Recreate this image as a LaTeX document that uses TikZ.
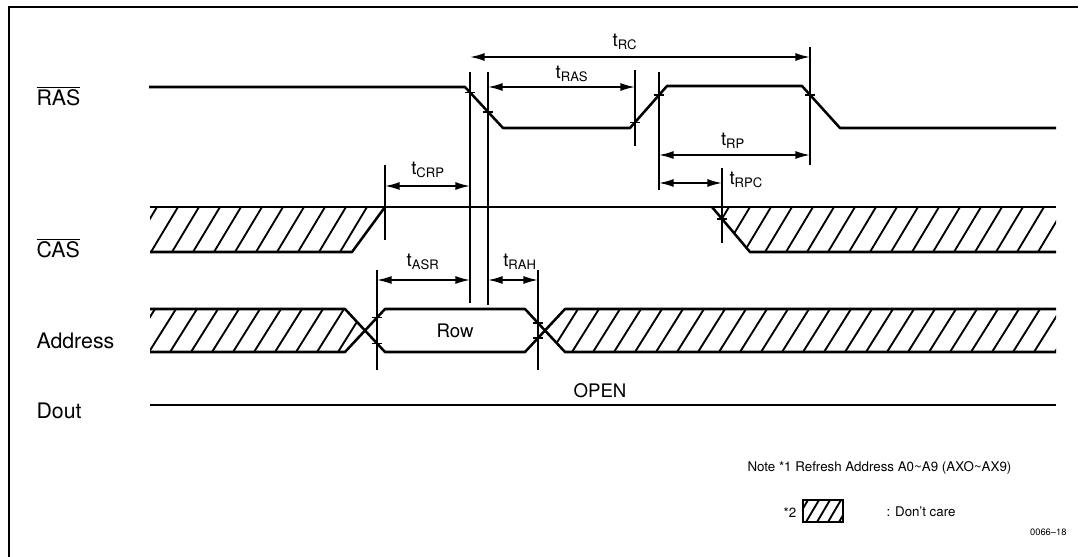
\documentclass[tikz,border=0pt]{standalone}
\usepackage{fontspec}
\setmainfont{TeX Gyre Heros}
\usetikzlibrary{arrows.meta}
\tikzset{every picture/.style={line width=0.75pt}}
\tikzset{
  sig/.style={line width=1.9pt, line join=round},
  marker/.style={line width=1.2pt},
  dim/.style={line width=1.2pt, {Latex[length=11pt,width=6pt]}-{Latex[length=11pt,width=6pt]}},
  hatch/.style={line width=1.4pt},
  lbl/.style={inner sep=0.75pt, font=\fontsize{14}{16}\selectfont},
  notelbl/.style={inner sep=0.75pt, font=\fontsize{10}{12}\selectfont},
  siglbl/.style={anchor=west, inner sep=0.75pt, font=\fontsize{16}{19}\selectfont}
}
\newcommand{\tsub}[1]{t\textsubscript{#1}}

\begin{document}
\begin{tikzpicture}[x=0.75pt,y=0.75pt,yscale=-1,xscale=1]
\path[use as bounding box] (0,0) rectangle (1083,557);

%Frame
\draw [line width=1.2pt] (9,557) -- (9,7) -- (1078,7) ;

%RAS
\draw [sig] (149,87) -- (465,87) -- (503,128) -- (630,128) -- (667,86) -- (802,86) -- (840,128) -- (1056,128) ;

%CAS
\draw [sig] (150,207) -- (1056,207) ;
\draw [sig] (150,252) -- (352,252) -- (385,207) ;
\draw [sig] (712,207) -- (750,252) -- (1056,252) ;
\begin{scope}
\clip (150,207) -- (385,207) -- (352,252) -- (150,252) -- cycle ;
\foreach \x in {130,151,...,390} \draw [hatch] (\x,252) -- ++(27,-45) ;
\end{scope}
\begin{scope}
\clip (712,207) -- (1056,207) -- (1056,252) -- (750,252) -- cycle ;
\foreach \x in {702,723,...,1060} \draw [hatch] (\x,252) -- ++(27,-45) ;
\end{scope}

%Address
\draw [sig] (150,309) -- (345,309) -- (385,352) -- (525,352) -- (565,309) -- (1056,309) ;
\draw [sig] (150,352) -- (345,352) -- (385,309) -- (525,309) -- (565,352) -- (1056,352) ;
\begin{scope}
\clip (150,309) -- (345,309) -- (365,330.5) -- (345,352) -- (150,352) -- cycle ;
\foreach \x in {128,149,...,350} \draw [hatch] (\x,352) -- ++(27,-43) ;
\end{scope}
\begin{scope}
\clip (545,330.5) -- (565,309) -- (1056,309) -- (1056,352) -- (565,352) -- cycle ;
\foreach \x in {530,551,...,1060} \draw [hatch] (\x,352) -- ++(27,-43) ;
\end{scope}

%Dout
\draw [sig] (150,405) -- (1056,405) ;

%Marker lines
\draw [marker] (385,165) -- (385,240) ;
\draw [marker] (470,72) -- (470,303) ;
\draw [marker] (488,72) -- (488,305) ;
\draw [marker] (635,70) -- (635,146) ;
\draw [marker] (659,72) -- (659,190) ;
\draw [marker] (810,47) -- (810,165) ;
\draw [marker] (722,168) -- (722,243) ;
\draw [marker] (377,270) -- (377,370) ;
\draw [marker] (538,270) -- (538,370) ;

%Ticks
\foreach \tx/\ty in {470/92.4, 488/111.8, 635/122.3, 659/95.1, 810/94.8, 385/207, 722/218.8, 377/317.6, 377/343.4, 538/323, 538/338}
  \draw [marker] (\tx-5,\ty) -- (\tx+5,\ty) ;

%Dimension arrows
\draw [dim] (470,57) -- (810,57) ;
\draw [dim] (488,87) -- (635,87) ;
\draw [dim] (659,155) -- (810,155) ;
\draw [dim] (659,183) -- (722,183) ;
\draw [dim] (385,186) -- (470,186) ;
\draw [dim] (377,280) -- (470,280) ;
\draw [dim] (488,280) -- (538,280) ;

% Text Node
\node [siglbl] (ras) at (35,96) {$\overline{\hbox{RAS}}$};
\node [siglbl] (cas) at (35,248) {$\overline{\hbox{CAS}}$};
\node [siglbl] (addr) at (35,341) {Address};
\node [siglbl] (dout) at (35,411) {Dout};
% Text Node
\node [lbl] (trc) at (625,42) {\tsub{RC}};
\node [lbl] (tras) at (572,74) {\tsub{RAS}};
\node [lbl] (trp) at (733,141) {\tsub{RP}};
\node [lbl, anchor=west] (trpc) at (728,180) {\tsub{RPC}};
\node [lbl] (tcrp) at (428,170) {\tsub{CRP}};
\node [lbl] (tasr) at (423,262) {\tsub{ASR}};
\node [lbl] (trah) at (520,262) {\tsub{RAH}};
\node [lbl] (row) at (455,331) {Row};
\node [lbl] (open) at (600,391) {OPEN};
% Text Node
\node [notelbl, anchor=west] (note) at (746,468) {Note *1 Refresh Address A0\textasciitilde A9 (AXO\textasciitilde AX9)};
\node [notelbl] (star) at (790,513) {*2};
\draw [line width=1.3pt] (803,500) rectangle (843,522) ;
\begin{scope}
\clip (803,500) rectangle (843,522) ;
\foreach \x in {795,806,...,845} \draw [hatch] (\x,522) -- ++(13,-22) ;
\end{scope}
\node [notelbl, anchor=west] (dc) at (885,512) {: Don't care};
\node [inner sep=0.75pt, anchor=east, font=\fontsize{7}{8}\selectfont] (fig) at (1068,532) {0066--18};

\end{tikzpicture}
\end{document}
